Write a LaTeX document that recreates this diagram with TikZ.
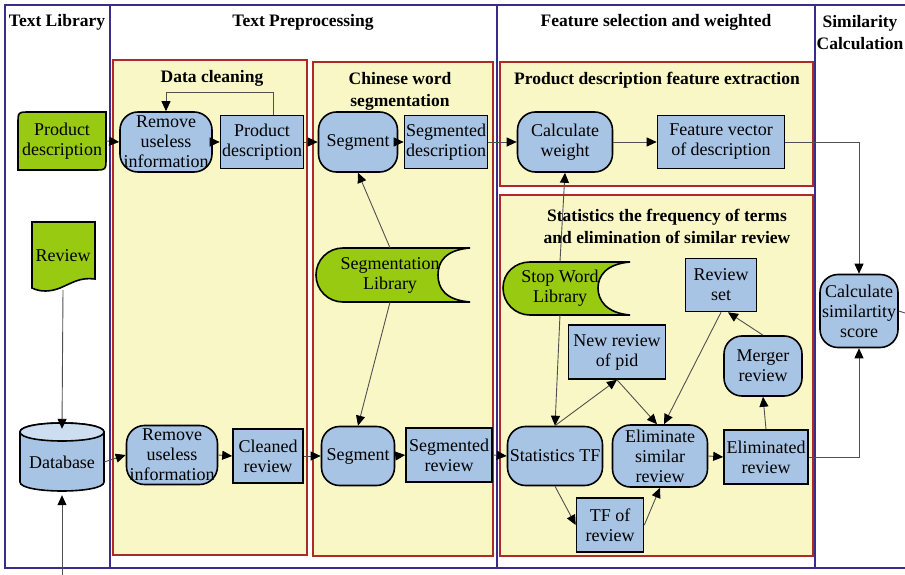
\documentclass[tikz,border=0pt]{standalone}
\usepackage{fontspec}
\setmainfont{Liberation Serif}
\usetikzlibrary{arrows.meta}

\definecolor{laneblue}{RGB}{60,42,140}
\definecolor{grpred}{RGB}{172,42,40}
\definecolor{grpyellow}{RGB}{250,247,198}
\definecolor{boxblue}{RGB}{168,196,228}
\definecolor{dbtop}{RGB}{204,222,240}
\definecolor{libgreen}{RGB}{152,202,18}
\definecolor{linegray}{RGB}{80,80,80}

\newcommand\boxfont{\fontsize{18}{20}\selectfont}
\newcommand\hdfont{\fontsize{17.5}{22}\selectfont\bfseries}

\tikzset{
  lane/.style={draw=laneblue, line width=1.6pt},
  grp/.style={draw=grpred, fill=grpyellow, line width=1.5pt},
  databox/.style={draw, line width=1.6pt, fill=boxblue, align=center, inner sep=0pt, font=\boxfont},
  procbox/.style={databox, rounded corners=18pt},
  txt/.style={align=center, inner sep=0pt, font=\boxfont},
  gshape/.style={draw, line width=1.6pt, fill=libgreen},
  ttl/.style={font=\hdfont, align=center},
  conn/.style={draw=linegray, line width=0.9pt},
  arr/.style={conn, -{Triangle[length=10pt,width=9pt,color=black]}},
}

\begin{document}
\begin{tikzpicture}[x=1pt,y=-1pt]
    \useasboundingbox (0,0) rectangle (905,575);

    % lanes
    \draw[lane] (905,5) -- (5,5) -- (5,568) -- (905,568);
    \draw[lane] (110,5) -- (110,568);
    \draw[lane] (497,5) -- (497,568);
    \draw[lane] (815,5) -- (815,568);

    \node[ttl] (hd1) at (57,22) {Text Library};
    \node[ttl] (hd2) at (303,22) {Text Preprocessing};
    \node[ttl] (hd3) at (656,22) {Feature selection and weighted};
    \node[ttl] (hd4) at (860,33) {Similarity\\Calculation};

    % groups
    \draw[grp] (113,60) rectangle (307,555);
    \draw[grp] (313,62) rectangle (493,556);
    \draw[grp] (500,62) rectangle (813,186);
    \draw[grp] (500,195) rectangle (813,556);

    \node[ttl] (g1) at (212,78) {Data cleaning};
    \node[ttl] (g2) at (400,91) {Chinese word\\segmentation};
    \node[ttl] (g3) at (657,80) {Product description feature extraction};
    \node[ttl] (g4) at (667,226) {Statistics the frequency of terms\\and elimination of similar review};

    % green sources and libraries
    \draw[gshape] (18,170) -- (18,124) .. controls (18,112) .. (30,112) -- (106,112)
        -- (106,158) .. controls (106,170) .. (94,170) -- cycle;
    \draw[gshape] (32,222) -- (95,222) -- (95,279) .. controls (80,277) and (72,283) .. (60,288)
        .. controls (50,292) and (40,292) .. (32,288) -- cycle;
    \draw[gshape] (343,248) -- (470,248) .. controls (445,250) and (438,262) .. (438,275)
        .. controls (438,288) and (445,300) .. (470,302) -- (343,302)
        .. controls (328,302) and (316,290) .. (316,275) .. controls (316,260) and (328,248) .. (343,248) -- cycle;
    \draw[gshape] (530,262) -- (630,262) .. controls (606,264) and (598,276) .. (598,288)
        .. controls (598,300) and (606,313) .. (630,315) -- (530,315)
        .. controls (515,315) and (503,303) .. (503,288) .. controls (503,273) and (515,262) .. (530,262) -- cycle;

    % database
    \draw[line width=1.6pt, fill=boxblue] (20,432) -- (20,482) .. controls (20,494) and (104,494) .. (104,482)
        -- (104,432) .. controls (104,420) and (20,420) .. (20,432) -- cycle;
    \draw[line width=1.6pt, fill=dbtop] (20,432) .. controls (20,420) and (104,420) .. (104,432)
        .. controls (104,444) and (20,444) .. (20,432) -- cycle;

    \node[txt, minimum width=88pt, minimum height=58pt] (pdg) at (62,141) {Product\\description};
    \node[txt, minimum width=63pt, minimum height=68pt] (rv) at (63,256) {Review};
    \node[txt, minimum width=84pt, minimum height=66pt] (db) at (62,462) {Database};
    \node[txt, minimum width=120pt, minimum height=54pt] (seglib) at (390,275) {Segmentation\\Library};
    \node[txt, minimum width=100pt, minimum height=53pt] (stopw) at (560,288) {Stop Word\\Library};

    % description row
    \node[procbox, minimum width=92pt, minimum height=60pt] (rm1) at (166,142) {Remove\\useless\\information};
    \node[databox, minimum width=83pt, minimum height=53pt] (pd1) at (262,142) {Product\\description};
    \node[procbox, minimum width=79pt, minimum height=60pt] (seg1) at (358,142) {Segment};
    \node[databox, minimum width=83pt, minimum height=53pt] (sd) at (446,142) {Segmented\\description};
    \node[procbox, minimum width=95pt, minimum height=60pt] (cw) at (565,142) {Calculate\\weight};
    \node[databox, minimum width=127pt, minimum height=53pt] (fv) at (721,142) {Feature vector\\of description};

    % review row
    \node[procbox, minimum width=91pt, minimum height=59pt] (rm2) at (172,455) {Remove\\useless\\information};
    \node[databox, minimum width=70pt, minimum height=54pt] (cr) at (268,456) {Cleaned\\review};
    \node[procbox, minimum width=73pt, minimum height=59pt] (seg2) at (358,456) {Segment};
    \node[databox, minimum width=86pt, minimum height=54pt] (sr) at (449,455) {Segmented\\review};
    \node[procbox, minimum width=95pt, minimum height=59pt] (stf) at (555,456) {Statistics TF};
    \node[procbox, minimum width=95pt, minimum height=62pt] (elims) at (660,456) {Eliminate\\similar\\review};
    \node[databox, minimum width=84pt, minimum height=54pt] (elimd) at (766,457) {Eliminated\\review};
    \node[databox, minimum width=67pt, minimum height=54pt] (tf) at (610,525) {TF of\\review};
    \node[databox, minimum width=97pt, minimum height=54pt] (nrp) at (617,352) {New review\\of pid};
    \node[databox, minimum width=71pt, minimum height=53pt] (rset) at (721,285) {Review\\set};
    \node[procbox, minimum width=78pt, minimum height=60pt] (merger) at (763,366) {Merger\\review};

    \node[procbox, minimum width=78pt, minimum height=73pt] (sim) at (859,311) {Calculate\\similartity\\score};

    % connectors
    \draw[arr] (pdg.east) -- (rm1.west);
    \draw[arr] (rm1.east) -- (pd1.west);
    \draw[arr] ([xshift=11pt]pd1.north) -- ++(0,-22) -| (rm1.north);
    \draw[arr] (pd1.east) -- (seg1.west);
    \draw[arr] (seg1.east) -- (sd.west);
    \draw[arr] (sd.east) -- (cw.west);
    \draw[arr] (cw.east) -- (fv.west);
    \draw[arr] (fv.east) -| (sim.north);

    \draw[arr] (seglib.north) -- (seg1.south);
    \draw[arr] (seglib.south) -- (seg2.north);
    \draw[arr] (stopw.north) -- (cw.south);
    \draw[arr] (stopw.south) -- (stf.north);

    \draw[arr] (rv.south) -- (db.north);
    \coordinate (dbin) at (62,575);
    \draw[arr] (dbin) -- (db.south);
    \draw[arr] (db.east) -- (rm2.west);
    \draw[arr] (rm2.east) -- (cr.west);
    \draw[arr] (cr.east) -- (seg2.west);
    \draw[arr] (seg2.east) -- (sr.west);
    \draw[arr] (sr.east) -- (stf.west);

    \draw[arr] (stf.north) -- (nrp.south);
    \draw[arr] (nrp.south) -- ([xshift=-3pt]elims.north);
    \draw[arr] (rset.south) -- ([xshift=4pt]elims.north);
    \draw[arr] (stf.south) -- (tf.west);
    \draw[arr] (tf.east) -- (elims.south);
    \draw[arr] (elims.east) -- (elimd.west);
    \draw[arr] (elimd.north) -- (merger.south);
    \draw[arr] (merger.north) -- ([xshift=7pt]rset.south);
    \draw[arr] (elimd.east) -| (sim.south);
    \coordinate (simout) at (905,313);
    \draw[conn] (sim.east) -- (simout);

\end{tikzpicture}
\end{document}
